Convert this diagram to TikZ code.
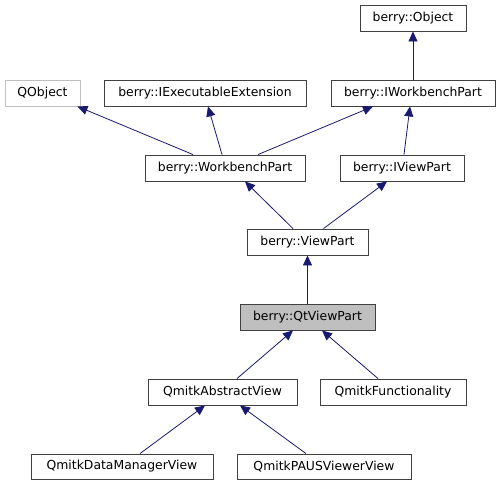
\documentclass[tikz,border=0pt]{standalone}
\usepackage{fontspec}
\setmainfont{DejaVu Sans}
\usetikzlibrary{arrows.meta}
\definecolor{edgeblue}{HTML}{191970}
\definecolor{boxborder}{HTML}{404040}
\definecolor{greyfill}{HTML}{BFBFBF}
\begin{document}
\begin{tikzpicture}[x=1pt,y=1pt,
  cls/.style={draw=boxborder,line width=0.9pt,fill=white,minimum height=26pt,inner sep=0pt,
    font=\fontsize{12.4}{14}\selectfont,text=black},
  ext/.style={cls,draw=greyfill},
  cur/.style={cls,fill=greyfill},
  inh/.style={draw=edgeblue,line width=0.8pt,
    {Triangle[length=10pt,width=9pt,fill=edgeblue]}-}]
\useasboundingbox (0,0) rectangle (501,-485);
\node[cls,minimum width=106pt] (obj) at (413,-18) {berry::Object};
\node[ext,minimum width=75pt] (qobj) at (42.5,-93) {QObject};
\node[cls,minimum width=202pt] (iee) at (205,-93) {berry::IExecutableExtension};
\node[cls,minimum width=164pt] (iwp) at (413,-93) {berry::IWorkbenchPart};
\node[cls,minimum width=160pt] (wp) at (225,-168) {berry::WorkbenchPart};
\node[cls,minimum width=124pt] (ivp) at (402,-168) {berry::IViewPart};
\node[cls,minimum width=121pt] (vp) at (307.5,-242) {berry::ViewPart};
\node[cur,minimum width=135pt] (qvp) at (307.5,-317) {berry::QtViewPart};
\node[cls,minimum width=149pt] (qav) at (222.5,-392) {QmitkAbstractView};
\node[cls,minimum width=146pt] (qf) at (393,-392) {QmitkFunctionality};
\node[cls,minimum width=182pt,minimum height=25pt] (dmv) at (122,-466.5) {QmitkDataManagerView};
\node[cls,minimum width=174pt,minimum height=25pt] (paus) at (324,-466.5) {QmitkPAUSViewerView};
\draw[inh] (obj.south) -- (iwp.north);
\draw[inh] ([xshift=35pt]qobj.south) -- ([xshift=-32pt]wp.north);
\draw[inh] ([xshift=3pt]iee.south) -- ([xshift=-3pt]wp.north);
\draw[inh] ([xshift=-40pt]iwp.south) -- ([xshift=33pt]wp.north);
\draw[inh] ([xshift=-3pt]iwp.south) -- ([xshift=2pt]ivp.north);
\draw[inh] ([xshift=20pt]wp.south) -- ([xshift=-14.5pt]vp.north);
\draw[inh] ([xshift=-15pt]ivp.south) -- ([xshift=16pt]vp.north);
\draw[inh] (vp.south) -- (qvp.north);
\draw[inh] ([xshift=-14.5pt]qvp.south) -- ([xshift=14.5pt]qav.north);
\draw[inh] ([xshift=14.5pt]qvp.south) -- ([xshift=-15pt]qf.north);
\draw[inh] ([xshift=-17.5pt]qav.south) -- ([xshift=18pt]dmv.north);
\draw[inh] ([xshift=17.5pt]qav.south) -- ([xshift=-18pt]paus.north);
\end{tikzpicture}
\end{document}
